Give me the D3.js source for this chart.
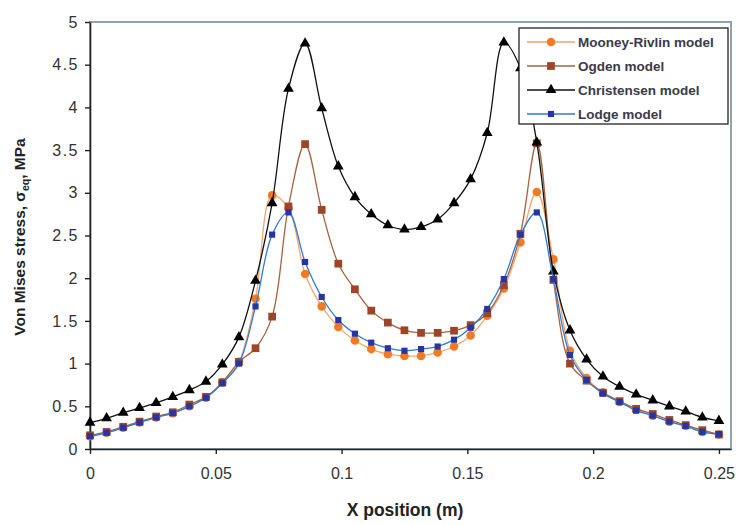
<!DOCTYPE html>
<html><head><meta charset="utf-8">
<script src="https://cdn.jsdelivr.net/npm/d3@7"></script>
<style>body{margin:0;background:#fff;} svg{display:block;font-family:Arial,"Liberation Sans",sans-serif;}</style>
</head><body>
<svg id="c" width="736" height="525"></svg>
<script>
const xPositions = [0,0.0066,0.0132,0.0197,0.0263,0.0329,0.0395,0.0461,0.0526,0.0592,0.0658,0.0724,0.0789,0.0855,0.0921,0.0987,0.1053,0.1118,0.1184,0.125,0.1316,0.1382,0.1447,0.1513,0.1579,0.1645,0.1711,0.1776,0.1842,0.1908,0.1974,0.2039,0.2105,0.2171,0.2237,0.2303,0.2368,0.2434,0.25];
const mooneyRivlin = [0.15,0.19,0.25,0.31,0.37,0.42,0.50,0.60,0.78,1.02,1.76,2.97,2.82,2.05,1.67,1.43,1.27,1.17,1.11,1.09,1.09,1.13,1.20,1.33,1.56,1.88,2.42,3.01,2.22,1.15,0.83,0.66,0.55,0.46,0.39,0.32,0.27,0.20,0.17];
const ogden = [0.16,0.20,0.26,0.32,0.38,0.43,0.52,0.61,0.78,1.02,1.18,1.55,2.84,3.57,2.80,2.17,1.87,1.62,1.48,1.39,1.36,1.36,1.385,1.45,1.59,1.92,2.52,3.58,1.98,1.00,0.80,0.66,0.56,0.47,0.41,0.34,0.28,0.22,0.17];
const christensen = [0.31,0.36,0.425,0.48,0.54,0.61,0.69,0.79,0.99,1.31,1.97,2.88,4.22,4.75,3.99,3.31,2.95,2.75,2.62,2.57,2.60,2.69,2.88,3.16,3.70,4.76,4.46,3.59,2.08,1.39,1.05,0.85,0.73,0.64,0.57,0.50,0.44,0.37,0.33];
const lodge = [0.15,0.19,0.25,0.31,0.37,0.42,0.50,0.60,0.77,1.00,1.67,2.51,2.77,2.19,1.78,1.51,1.35,1.245,1.18,1.15,1.17,1.20,1.28,1.42,1.64,1.99,2.51,2.77,1.99,1.10,0.81,0.65,0.55,0.45,0.39,0.32,0.27,0.20,0.175];
const xTicks = [0,0.05,0.1,0.15,0.2,0.25];
const yTicks = [0,0.5,1,1.5,2,2.5,3,3.5,4,4.5,5];
const seriesNames = ["Mooney-Rivlin model","Ogden model","Christensen model","Lodge model"];

const series = [
  {name:seriesNames[0], values:mooneyRivlin, line:"#f6a56a", fill:"#f27a24", sym:d3.symbolCircle, size:58},
  {name:seriesNames[1], values:ogden, line:"#a8623f", fill:"#9c4528", sym:d3.symbolSquare, size:60},
  {name:seriesNames[2], values:christensen, line:"#111", fill:"#000", sym:d3.symbolTriangle, size:50},
  {name:seriesNames[3], values:lodge, line:"#2f7ad8", fill:"#2535a5", sym:d3.symbolSquare, size:38}
];

const svg = d3.select("#c");
const L=90, R=731, T=22, B=449;
const x = d3.scaleLinear().domain([0,0.2548]).range([L,R]);
const y = d3.scaleLinear().domain([0,5]).range([B,T]);

svg.append("rect").attr("x",L).attr("y",T).attr("width",R-L).attr("height",B-T)
  .attr("fill","#fff").attr("stroke","#8ea3b3").attr("stroke-width",2);

const xAxis = svg.append("g").attr("transform",`translate(0,${B})`)
  .call(d3.axisBottom(x).tickValues(xTicks).tickFormat(d=>String(d)).tickSize(5).tickSizeOuter(0));
const yAxis = svg.append("g").attr("transform",`translate(${L},0)`)
  .call(d3.axisLeft(y).tickValues(yTicks).tickFormat(d=>String(d)).tickSize(5).tickSizeOuter(0));
[xAxis,yAxis].forEach(g=>{
  g.select(".domain").attr("stroke","#222").attr("stroke-width",1.6);
  g.selectAll(".tick line").attr("stroke","#222").attr("stroke-width",1.4);
  g.selectAll("text").attr("fill","#333").attr("font-size",16)
    .attr("font-family","Arial, Liberation Sans, sans-serif");
});
xAxis.selectAll("text").attr("dy","1.35em");
yAxis.selectAll("text").attr("dx","-3px").attr("letter-spacing","1.5px");

const line = d3.line().x((d,i)=>x(xPositions[i])).y(d=>y(d)).curve(d3.curveCatmullRom.alpha(0.5));

series.forEach(s=>{
  const g = svg.append("g");
  g.append("path").attr("d",line(s.values)).attr("fill","none").attr("stroke",s.line).attr("stroke-width",1.3);
  g.selectAll("path.m").data(s.values).join("path").attr("class","m")
    .attr("transform",(d,i)=>`translate(${x(xPositions[i])},${y(d)})`)
    .attr("d",d3.symbol().type(s.sym).size(s.size))
    .attr("fill",s.fill);
});

const lg = svg.append("g");
lg.append("rect").attr("x",519).attr("y",28).attr("width",209).attr("height",96)
  .attr("fill","#fff").attr("stroke","#111").attr("stroke-width",1.2);
series.forEach((s,i)=>{
  const yy = 42 + i*24;
  lg.append("line").attr("x1",527).attr("x2",575).attr("y1",yy).attr("y2",yy).attr("stroke",s.line).attr("stroke-width",1.3);
  lg.append("path").attr("transform",`translate(551,${yy})`).attr("d",d3.symbol().type(s.sym).size(s.size)).attr("fill",s.fill);
  lg.append("text").attr("x",578).attr("y",yy+5).attr("font-size",13.5).attr("font-weight","bold").attr("fill","#3a3a4a").text(s.name);
});

svg.append("text").attr("x",405).attr("y",516).attr("text-anchor","middle")
  .attr("font-size",17.5).attr("font-weight","bold").attr("fill","#222").text("X position (m)");
const yt = svg.append("text").attr("transform","translate(25,237) rotate(-90)").attr("text-anchor","middle")
  .attr("font-size",15.5).attr("font-weight","bold").attr("fill","#222");
yt.append("tspan").text("Von Mises stress, σ");
yt.append("tspan").attr("font-size",10.5).attr("dy",4).text("eq");
yt.append("tspan").attr("dy",-4).text(", MPa");
</script>
</body></html>
